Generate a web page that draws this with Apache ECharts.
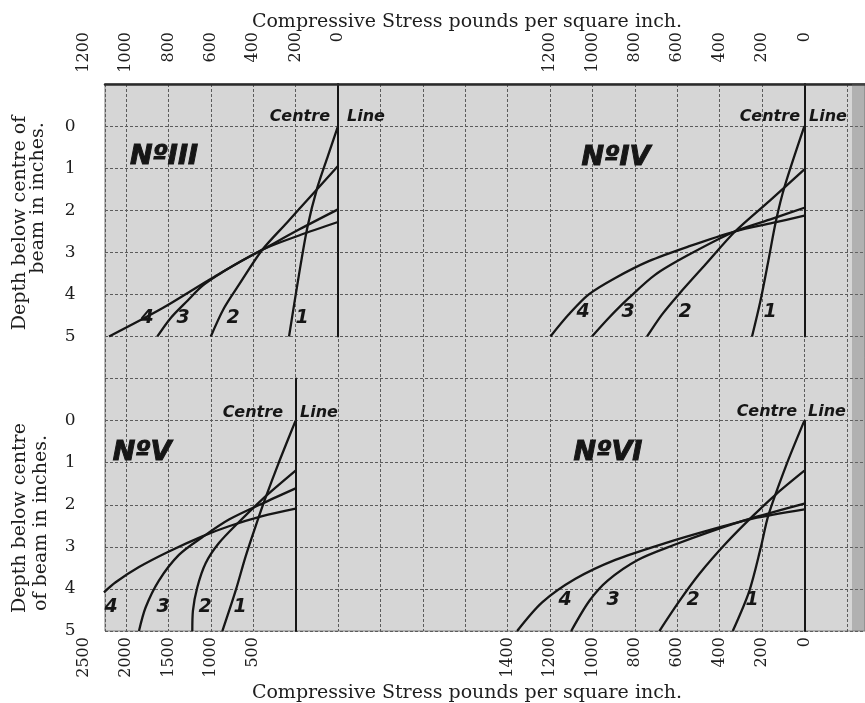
<!DOCTYPE html>
<html>
<head>
<meta charset="utf-8">
<script src="https://cdn.jsdelivr.net/npm/echarts@6/dist/echarts.min.js"></script>
<style>
  html, body { margin: 0; padding: 0; background: #fff; }
  #chart { width: 865px; height: 703px; }
</style>
</head>
<body>
<div id="chart"></div>
<script>
// --- data: [stress lb/sq.in, depth below centre in inches] ---
// No. III
const no3Curve1 = [[0, 0], [47, 0.7], [98, 1.47], [145, 2.42], [184, 3.53], [231, 5]]
const no3Curve2 = [[0, 0.95], [120, 1.62], [240, 2.29], [357, 2.94], [467, 3.77], [538, 4.33], [600, 5]]
const no3Curve3 = [[0, 1.98], [184, 2.46], [357, 2.94], [470, 3.25], [560, 3.52], [640, 3.8], [710, 4.15], [789, 4.56], [852, 5]]
const no3Curve4 = [[0, 2.28], [184, 2.6], [357, 2.94], [593, 3.61], [829, 4.33], [1080, 5]]
// No. IV
const no4Curve1 = [[0, 0], [93, 1.43], [134, 2.25], [170, 3.2], [208, 4.17], [247, 5]]
const no4Curve2 = [[0, 1.03], [163, 1.77], [326, 2.5], [467, 3.29], [593, 4.0], [672, 4.48], [742, 5]]
const no4Curve3 = [[0, 1.94], [150, 2.2], [326, 2.5], [546, 3.06], [703, 3.53], [829, 4.09], [923, 4.56], [1002, 5]]
const no4Curve4 = [[0, 2.13], [150, 2.3], [326, 2.5], [546, 2.86], [734, 3.21], [892, 3.61], [1017, 4.0], [1112, 4.48], [1198, 5]]
// No. V
const no5Curve1 = [[0, 0], [197, 0.99], [354, 1.83], [472, 2.51], [590, 3.23], [707, 4.04], [864, 5]]
const no5Curve2 = [[0, 1.19], [393, 1.87], [668, 2.41], [904, 2.91], [1061, 3.39], [1159, 3.96], [1211, 4.52], [1218, 5]]
const no5Curve3 = [[0, 1.61], [393, 1.97], [786, 2.35], [1100, 2.77], [1376, 3.19], [1612, 3.8], [1769, 4.44], [1847, 5]]
const no5Curve4 = [[0, 2.09], [393, 2.27], [786, 2.51], [1100, 2.75], [1494, 3.11], [1847, 3.48], [2122, 3.84], [2260, 4.08]]
// No. VI
const no6Curve1 = [[0, 0], [85, 1.05], [170, 2.25], [205, 3.0], [260, 4.05], [338, 5]]
const no6Curve2 = [[0, 1.19], [134, 1.75], [244, 2.27], [369, 2.91], [495, 3.64], [590, 4.29], [684, 5]]
const no6Curve3 = [[0, 1.97], [244, 2.31], [440, 2.63], [613, 2.95], [786, 3.31], [928, 3.8], [1014, 4.28], [1100, 5]]
const no6Curve4 = [[0, 2.11], [244, 2.33], [440, 2.59], [656, 2.91], [892, 3.31], [1080, 3.76], [1237, 4.32], [1355, 5]]

// tick labels
const depthTicks = [0, 1, 2, 3, 4, 5]
const ticksNo3 = [0, 200, 400, 600, 800, 1000, 1200]
const ticksNo4 = [0, 200, 400, 600, 800, 1000, 1200]
const ticksNo5 = [500, 1000, 1500, 2000, 2500]
const ticksNo6 = [0, 200, 400, 600, 800, 1000, 1200, 1400]

const SERIF = 'DejaVu Serif'
const SANS = 'DejaVu Sans'
const INK = '#161616'

// --- 版面 ---
const CX = 42.4           // px per grid square, horizontal
const CY = 42.08          // px per grid square, vertical
const TOP = 84
const MID = TOP + 7 * CY
const LEFT_CL = 338       // centre line of III
const RIGHT_CL = LEFT_CL + 11 * CX
const LOWLEFT_CL = LEFT_CL - CX

const chart = echarts.init(document.getElementById('chart'))

const pick = ticks => v => ticks.includes(v) ? String(v) : ''

// top axis flips label rotation, so -90 there reads bottom-to-top like the bottom axis
const stressAxis = (gridIndex, position, max, step, ticks) => ({
  type: 'value', gridIndex, position, inverse: true, min: 0, max, interval: step,
  axisLine: { show: false, onZero: false }, axisTick: { show: false }, splitLine: { show: false },
  axisLabel: {
    rotate: position === 'top' ? -90 : 90, align: 'right', verticalAlign: 'middle',
    margin: position === 'top' ? 52 : 6,
    fontFamily: SERIF, fontSize: 16, color: '#1e1e1e',
    formatter: pick(ticks)
  }
})

const depthLabelAxis = (gridIndex) => ({
  type: 'value', gridIndex, position: 'left', inverse: true, min: -1, max: 5, interval: 1,
  axisLine: { show: false, onZero: false }, axisTick: { show: false }, splitLine: { show: false },
  axisLabel: { margin: 8, fontFamily: SERIF, fontSize: 17, color: '#1e1e1e', formatter: pick(depthTicks) }
})

const centreAxis = (gridIndex, min) => ({
  type: 'value', gridIndex, position: 'right', inverse: true, min, max: 5,
  axisLine: { show: true, onZero: false, lineStyle: { color: INK, width: 2 } },
  axisTick: { show: false }, axisLabel: { show: false }, splitLine: { show: false }
})

const curve = (data, xi, yi) => ({
  type: 'line', data, xAxisIndex: xi, yAxisIndex: yi,
  smooth: 0.3, symbol: 'none', silent: true,
  lineStyle: { color: INK, width: 2.3 }
})

const txt = (x, y, text, font, extra) => ({
  type: 'text', x, y, z: 50, silent: true,
  style: Object.assign({ text, font, fill: INK, align: 'center', verticalAlign: 'middle' }, extra || {})
})

const bgLeft = 105
const bgRight = 865
const heavy = { stroke: INK, lineWidth: 1 }

const option = {
  animation: false,
  backgroundColor: '#fff',
  grid: [
    // 方格纸底
    { left: bgLeft, top: TOP, width: bgRight - bgLeft, height: 13 * CY, show: true,
      backgroundColor: '#d6d6d6', borderColor: '#7a7a7a', borderWidth: 1, outerBoundsMode: 'none' },
    { left: LEFT_CL - 6 * CX, top: TOP, width: 6 * CX, height: 6 * CY, outerBoundsMode: 'none' },
    { left: RIGHT_CL - 6 * CX, top: TOP, width: 6 * CX, height: 6 * CY, outerBoundsMode: 'none' },
    { left: LOWLEFT_CL - 5 * CX, top: MID, width: 5 * CX, height: 6 * CY, outerBoundsMode: 'none' },
    { left: RIGHT_CL - 7 * CX, top: MID + CY, width: 7 * CX, height: 5 * CY, outerBoundsMode: 'none' }
  ],
  xAxis: [
    { type: 'value', gridIndex: 0, position: 'top',
      min: (bgLeft - LEFT_CL) / CX, max: (bgRight - LEFT_CL) / CX, minInterval: 1, maxInterval: 1,
      axisLine: { show: true, onZero: false, lineStyle: { color: '#2a2a2a', width: 2.5 } },
      axisTick: { show: false }, axisLabel: { show: false },
      splitLine: { show: true, lineStyle: { color: '#5c5c5c', width: 1, type: [3, 2] } } },
    stressAxis(1, 'top', 1200, 200, ticksNo3),
    stressAxis(2, 'top', 1200, 200, ticksNo4),
    stressAxis(3, 'bottom', 2500, 500, ticksNo5),
    stressAxis(4, 'bottom', 1400, 200, ticksNo6)
  ],
  yAxis: [
    { type: 'value', gridIndex: 0, inverse: true, min: -1, max: 12, interval: 1,
      axisLine: { show: false, onZero: false }, axisTick: { show: false }, axisLabel: { show: false },
      splitLine: { show: true, lineStyle: { color: '#5c5c5c', width: 1, type: [3, 2] } } },
    depthLabelAxis(1),
    centreAxis(1, -1),
    centreAxis(2, -1),
    depthLabelAxis(3),
    centreAxis(3, -1),
    centreAxis(4, 0)
  ],
  series: [
    curve(no3Curve1, 1, 1), curve(no3Curve2, 1, 1), curve(no3Curve3, 1, 1), curve(no3Curve4, 1, 1),
    curve(no4Curve1, 2, 3), curve(no4Curve2, 2, 3), curve(no4Curve3, 2, 3), curve(no4Curve4, 2, 3),
    curve(no5Curve1, 3, 4), curve(no5Curve2, 3, 4), curve(no5Curve3, 3, 4), curve(no5Curve4, 3, 4),
    curve(no6Curve1, 4, 6), curve(no6Curve2, 4, 6), curve(no6Curve3, 4, 6), curve(no6Curve4, 4, 6)
  ],
  graphic: [
    // 纸边
    { type: 'rect', silent: true, z: 1, shape: { x: 852, y: TOP, width: 13, height: 13 * CY },
      style: { fill: 'rgba(110,110,110,0.35)' } },
    txt(467, 22, 'Compressive Stress pounds per square inch.', `19px "${SERIF}"`, { fill: '#1e1e1e' }),
    txt(467, 693, 'Compressive Stress pounds per square inch.', `19px "${SERIF}"`, { fill: '#1e1e1e' }),
    Object.assign(txt(20, 223, 'Depth below centre of', `19px "${SERIF}"`, { fill: '#1e1e1e' }), { rotation: Math.PI / 2 }),
    Object.assign(txt(38, 198, 'beam in inches.', `19px "${SERIF}"`, { fill: '#1e1e1e' }), { rotation: Math.PI / 2 }),
    Object.assign(txt(20, 518, 'Depth below centre', `19px "${SERIF}"`, { fill: '#1e1e1e' }), { rotation: Math.PI / 2 }),
    Object.assign(txt(41, 523, 'of beam in inches.', `19px "${SERIF}"`, { fill: '#1e1e1e' }), { rotation: Math.PI / 2 }),
    // panel names
    txt(164, 157, 'NºIII', `italic bold 27px "${SANS}"`, heavy),
    txt(616, 158, 'NºIV', `italic bold 27px "${SANS}"`, heavy),
    txt(142, 453, 'NºV', `italic bold 27px "${SANS}"`, heavy),
    txt(608, 453, 'NºVI', `italic bold 27px "${SANS}"`, heavy),
    // Centre Line
    txt(330, 117, 'Centre', `italic bold 16px "${SANS}"`, { align: 'right' }),
    txt(347, 117, 'Line', `italic bold 16px "${SANS}"`, { align: 'left' }),
    txt(800, 117, 'Centre', `italic bold 16px "${SANS}"`, { align: 'right' }),
    txt(809, 117, 'Line', `italic bold 16px "${SANS}"`, { align: 'left' }),
    txt(283, 413, 'Centre', `italic bold 16px "${SANS}"`, { align: 'right' }),
    txt(300, 413, 'Line', `italic bold 16px "${SANS}"`, { align: 'left' }),
    txt(797, 412, 'Centre', `italic bold 16px "${SANS}"`, { align: 'right' }),
    txt(808, 412, 'Line', `italic bold 16px "${SANS}"`, { align: 'left' }),
    // curve numbers
    txt(147, 318, '4', `italic bold 19px "${SANS}"`), txt(183, 318, '3', `italic bold 19px "${SANS}"`),
    txt(233, 318, '2', `italic bold 19px "${SANS}"`), txt(302, 318, '1', `italic bold 19px "${SANS}"`),
    txt(583, 312, '4', `italic bold 19px "${SANS}"`), txt(628, 312, '3', `italic bold 19px "${SANS}"`),
    txt(685, 312, '2', `italic bold 19px "${SANS}"`), txt(770, 312, '1', `italic bold 19px "${SANS}"`),
    txt(111, 607, '4', `italic bold 19px "${SANS}"`), txt(163, 607, '3', `italic bold 19px "${SANS}"`),
    txt(205, 607, '2', `italic bold 19px "${SANS}"`), txt(240, 607, '1', `italic bold 19px "${SANS}"`),
    txt(565, 600, '4', `italic bold 19px "${SANS}"`), txt(613, 600, '3', `italic bold 19px "${SANS}"`),
    txt(693, 600, '2', `italic bold 19px "${SANS}"`), txt(752, 600, '1', `italic bold 19px "${SANS}"`)
  ]
}

chart.setOption(option)
window.addEventListener('resize', () => chart.resize())
</script>
</body>
</html>
